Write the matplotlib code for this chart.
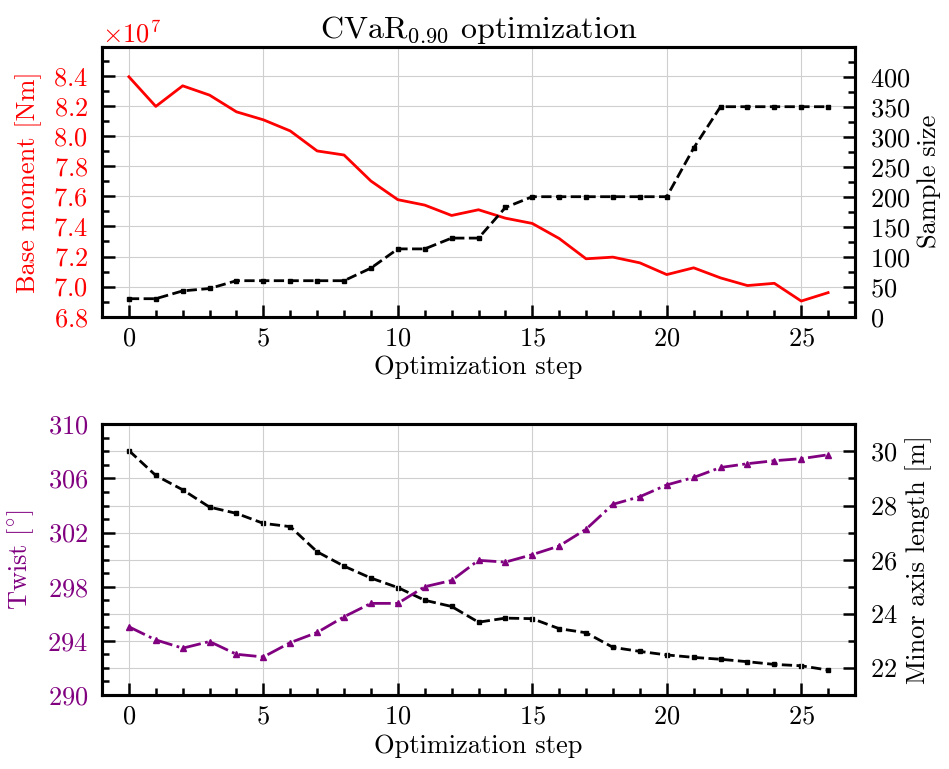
import matplotlib
matplotlib.use('Agg')
import matplotlib.pyplot as plt
from matplotlib.ticker import MultipleLocator
import numpy as np

plt.rcParams.update({
    'font.family': 'serif',
    'font.serif': ['cmr10', 'DejaVu Serif'],
    'mathtext.fontset': 'cm',
    'axes.formatter.use_mathtext': True,
    'axes.unicode_minus': False,
    'font.size': 19,
})

steps = list(range(27))
base_moment_1e7 = [8.395, 8.198, 8.335, 8.273, 8.162, 8.109, 8.035, 7.902, 7.875, 7.702,
                   7.578, 7.542, 7.473, 7.511, 7.455, 7.42, 7.32, 7.185, 7.196, 7.158,
                   7.08, 7.125, 7.058, 7.007, 7.022, 6.904, 6.96]
sample_size = [30, 30, 43, 47, 60, 60, 60, 60, 60, 81, 113, 113, 131, 131, 182, 200,
               200, 200, 200, 200, 200, 281, 350, 350, 350, 350, 350]
twist = [295.04, 294.07, 293.46, 293.95, 293.01, 292.81, 293.87, 294.62, 295.78, 296.77,
         296.77, 298.0, 298.46, 299.95, 299.82, 300.37, 301.01, 302.25, 304.09, 304.65,
         305.52, 306.07, 306.81, 307.09, 307.31, 307.46, 307.75]
minor_axis = [30.03, 29.11, 28.58, 27.94, 27.71, 27.34, 27.22, 26.29, 25.76, 25.32,
              24.97, 24.50, 24.27, 23.69, 23.84, 23.82, 23.45, 23.30, 22.76, 22.61,
              22.48, 22.39, 22.32, 22.23, 22.13, 22.08, 21.92]
twist_ticks = [290, 294, 298, 302, 306, 310]
sample_ticks = [0, 50, 100, 150, 200, 250, 300, 350, 400]

W, H = 949, 769
fig = plt.figure(figsize=(W / 100, H / 100), dpi=100)
L, R = 102, 855
ax1 = fig.add_axes([L / W, 1 - 316.7 / H, (R - L) / W, (316.7 - 46.7) / H])
ax3 = fig.add_axes([L / W, 1 - 695 / H, (R - L) / W, (695 - 424.3) / H])

RED = 'red'
PURPLE = 'purple'
SPINE_W = 2.2
GRID = dict(color='#cfcfcf', lw=0.8)


def style(ax, twin):
    for a in (ax, twin):
        for s in a.spines.values():
            s.set_linewidth(SPINE_W)
    ax.tick_params(which='both', direction='in', top=False, right=False, width=1.8)
    ax.tick_params(which='major', length=9)
    ax.tick_params(which='minor', length=5)
    ax.tick_params(axis='y', which='both', pad=10)
    ax.tick_params(axis='x', which='both', pad=7)
    twin.tick_params(which='both', direction='in', width=1.8, pad=11)
    twin.tick_params(which='major', length=9)
    twin.tick_params(which='minor', length=5)
    ax.xaxis.set_major_locator(MultipleLocator(5))
    ax.xaxis.set_minor_locator(MultipleLocator(1))
    ax.set_xlim(-1, 27)
    ax.set_xlabel('Optimization step', labelpad=4)


# ---- top panel ----
ax2 = ax1.twinx()
style(ax1, ax2)
ax1.plot(steps, np.array(base_moment_1e7) * 1e7, color=RED, lw=2.0)
ax1.set_ylim(6.8e7, 8.595e7)
ax1.yaxis.set_major_locator(MultipleLocator(0.2e7))
ax1.yaxis.set_minor_locator(MultipleLocator(0.1e7))
ax1.set_ylabel('Base moment [Nm]', color=RED, labelpad=8)
ax1.tick_params(axis='y', labelcolor=RED)
ax1.yaxis.get_offset_text().set_color(RED)
ax1.yaxis.get_offset_text().set_fontsize(19)
ax1.grid(True, which='major', **GRID)
ax1.set_axisbelow(True)

ax2.plot(steps, sample_size, color='black', ls='--', lw=2.0, marker='s', ms=3)
ax2.set_ylim(0, 450)
ax2.set_yticks(sample_ticks)
ax2.yaxis.set_minor_locator(MultipleLocator(25))
ax2.set_ylabel('Sample size', labelpad=5)
ax1.set_title(r'CVaR$_{0.90}$ optimization', fontsize=23, pad=6)

# ---- bottom panel ----
ax4 = ax3.twinx()
style(ax3, ax4)
ax3.set_zorder(ax4.get_zorder() + 1)
ax3.patch.set_visible(False)
ax4.patch.set_visible(True)
ax4.patch.set_facecolor('white')
ax3.plot(steps, twist, color=PURPLE, ls='-.', lw=2.0, marker='^', ms=5)
ax3.set_ylim(290, 310)
ax3.set_yticks(twist_ticks)
ax3.yaxis.set_minor_locator(MultipleLocator(1))
ax3.set_ylabel(r'Twist [$^{\circ}$]', color=PURPLE, labelpad=8)
ax3.tick_params(axis='y', labelcolor=PURPLE)
ax3.grid(True, which='major', axis='x', **GRID)

ax4.plot(steps, minor_axis, color='black', ls='--', lw=2.0, marker='s', ms=3)
ax4.set_ylim(21, 31)
ax4.yaxis.set_major_locator(MultipleLocator(2))
ax4.yaxis.set_minor_locator(MultipleLocator(1))
ax4.set_ylabel('Minor axis length [m]', labelpad=5)
ax4.grid(True, which='both', axis='y', **GRID)
ax4.set_axisbelow(True)

fig.savefig('out.png', dpi=100)
